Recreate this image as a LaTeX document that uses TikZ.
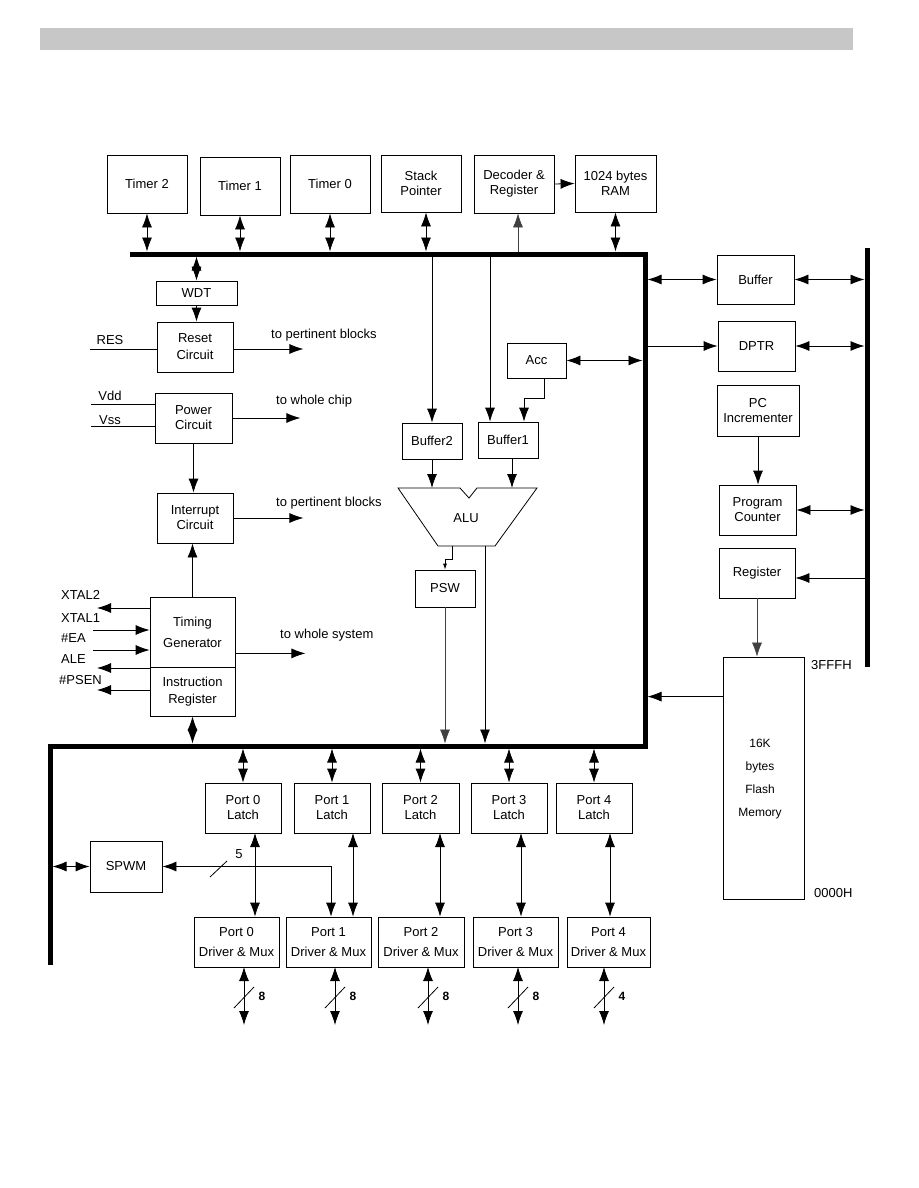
\documentclass[tikz,border=0pt]{standalone}
\usepackage{fontspec}
\setmainfont{Liberation Sans}
\usetikzlibrary{arrows.meta,calc}
\tikzset{
  blk/.style={draw, line width=0.8pt, inner sep=0pt, align=center, font=\fontsize{13}{15}\selectfont},
  bus/.style={line width=5pt},
  arr/.style={-{Latex[length=14pt,width=10pt]}, line width=0.8pt},
  darr/.style={{Latex[length=14pt,width=10pt]}-{Latex[length=14pt,width=10pt]}, line width=0.8pt},
  sarr/.style={-{Latex[length=6pt,width=4pt]}, line width=0.8pt},
  fine/.style={line width=0.6pt, draw=black!75},
  lbl/.style={font=\fontsize{13}{15}\selectfont, inner sep=0pt},
  num/.style={font=\fontsize{12}{14}\selectfont\bfseries, inner sep=0pt},
}
\newcommand\bx[6]{\node[blk, minimum width={(#4-#2)*1pt}, minimum height={(#5-#3)*1pt}] (#1) at ({(#2+#4)/2},{(#3+#5)/2}) {#6};}
\begin{document}
\begin{tikzpicture}[x=1pt,y=-1pt]
\useasboundingbox (0,0) rectangle (918,1188);
\fill[black!22] (40,28) rectangle (853,50);

% buses
\draw[bus, line join=miter] (130,254) -- (645,254) -- (645,746) -- (50,746) -- (50,965);
\draw[bus] (867,248) -- (867,667);
\coordinate (bT) at (0,251.5);
\coordinate (bTb) at (0,256.5);
\coordinate (bRl) at (642.5,0);
\coordinate (bRr) at (647.5,0);
\coordinate (bL) at (0,743.5);
\coordinate (bLb) at (0,748.5);
\coordinate (bLr) at (52.5,0);
\coordinate (rb) at (864.5,0);

% top row
\bx{t2}{107}{155}{187}{213}{Timer 2}
\bx{t1}{200}{157}{280}{215}{Timer 1}
\bx{t0}{290}{155}{370}{213}{Timer 0}
\bx{sp}{381}{155}{461}{212}{Stack\\Pointer}
\bx{dec}{474}{155}{554}{213}{Decoder \&\\Register}
\bx{ram}{575}{155}{656}{212}{1024 bytes\\RAM}
\draw[darr] (t2.south) -- (t2.south |- bT);
\draw[darr] (t1.south) -- (t1.south |- bT);
\draw[darr] (t0.south) -- (t0.south |- bT);
\path (sp.south) ++(5,0) coordinate (spA);
\draw[darr] (spA) -- (spA |- bT);
\path (dec.south) ++(4,0) coordinate (decA);
\draw[arr, fine] (decA |- bT) -- (decA);
\draw[arr] (dec.east) -- (ram.west);
\draw[darr] (ram.south) -- (ram.south |- bT);

% left column
\bx{wdt}{156}{281}{237}{305}{WDT}
\bx{rst}{157}{322}{233}{372}{Reset\\[2pt]Circuit}
\bx{pwr}{155}{393}{232}{443}{Power\\Circuit}
\bx{intr}{157}{493}{233}{543}{Interrupt\\Circuit}
\bx{tim}{150}{597}{235}{667}{Timing\\[6pt]Generator}
\bx{ir}{150}{667}{235}{716}{Instruction\\[2pt]Register}
\draw[darr] (wdt.north) -- (wdt.north |- bTb);
\draw[arr] (wdt.south) -- (wdt.south |- rst.north);
\coordinate (resin) at (90,349);
\draw[line width=0.8pt] (resin) -- (resin -| rst.west);
\node[lbl] (res) at (110,340) {RES};
\draw[arr] (resin -| rst.east) -- ++(70,0) coordinate (rstout);
\node[lbl, anchor=west] (rstlbl) at (271,335) {to pertinent blocks};
\coordinate (vdd) at (91,404);
\coordinate (vss) at (91,426);
\draw[line width=0.8pt] (vdd) -- (vdd -| pwr.west);
\draw[line width=0.8pt] (vss) -- (vss -| pwr.west);
\node[lbl] (vddl) at (110,396) {Vdd};
\node[lbl] (vssl) at (110,420) {Vss};
\draw[arr] (pwr.east) -- ++(68,0) coordinate (pwrout);
\node[lbl, anchor=west] (pwrlbl) at (276,401) {to whole chip};
\draw[arr] (pwr.south) -- (pwr.south |- intr.north);
\draw[arr] (intr.east) -- ++(70,0) coordinate (intout);
\node[lbl, anchor=west] (intlbl) at (276,503) {to pertinent blocks};
\draw[arr] (tim.north) -- (tim.north |- intr.south);
\path (tim.south east) ++(0,-14) coordinate (timA);
\draw[arr] (timA) -- ++(70,0) coordinate (timout);
\node[lbl, anchor=west] (timlbl) at (280,635) {to whole system};
\coordinate (x2) at (97,608);
\coordinate (x1) at (93,630);
\coordinate (ea) at (93,650);
\coordinate (ale) at (97,668);
\coordinate (psen) at (97,690);
\draw[arr] (x2 -| tim.west) -- (x2);
\draw[arr] (x1) -- (x1 -| tim.west);
\draw[arr] (ea) -- (ea -| tim.west);
\draw[arr] (ale -| tim.west) -- (ale);
\draw[arr] (psen -| ir.west) -- (psen);
\node[lbl, anchor=west] (x2l) at (61,595) {XTAL2};
\node[lbl, anchor=west] (x1l) at (61,618) {XTAL1};
\node[lbl, anchor=west] (eal) at (61,638) {\#EA};
\node[lbl, anchor=west] (alel) at (61,659) {ALE};
\node[lbl, anchor=west] (psenl) at (59,680) {\#PSEN};
\draw[darr] (ir.south) -- (ir.south |- bL);

% centre: buffers, ALU, PSW
\bx{acc}{507}{343}{566}{378}{Acc}
\bx{bf2}{402}{423}{462}{459}{Buffer2}
\bx{bf1}{478}{422}{538}{458}{Buffer1}
\bx{psw}{415}{570}{475}{607}{PSW}
\draw[arr] (bf2.north |- bTb) -- (bf2.north);
\path (bf1.north) ++(-18,0) coordinate (b1a);
\draw[arr] (b1a |- bTb) -- (b1a);
\draw[darr] (acc.east) -- (acc.east -| bRl);
\path (acc.south) ++(8,0) coordinate (accA);
\path (bf1.north) ++(16,0) coordinate (b1b);
\draw[arr] (accA) -- ++(0,20) -| (b1b);
\draw[line width=0.8pt] (398,488) -- (460,488) -- (469,498) -- (477,488) -- (537,488) -- (495,546) -- (438,546) -- cycle;
\node[lbl] (alu) at (466,518) {ALU};
\coordinate (aluT) at (0,488);
\draw[arr] (bf2.south) -- (bf2.south |- aluT);
\path (bf1.south) ++(4,0) coordinate (b1c);
\draw[arr] (b1c) -- (b1c |- aluT);
\coordinate (aluo1) at (452,546);
\draw[sarr] (aluo1) -- ++(0,13) -| (psw.north);
\draw[arr, fine] (psw.south) -- (psw.south |- bL);
\coordinate (aluo2) at (485,546);
\draw[arr] (aluo2) -- (aluo2 |- bL);

% right side
\bx{buf}{717}{255}{794}{304}{Buffer}
\bx{dptr}{718}{321}{795}{371}{DPTR}
\bx{pci}{717}{385}{799}{436}{PC\\Incrementer}
\bx{pc}{719}{485}{796}{535}{Program\\Counter}
\bx{reg}{719}{548}{795}{598}{Register}
\bx{flash}{723}{657}{804}{899}{}
\node[align=center, inner sep=0pt, font=\fontsize{12}{23}\selectfont] (fltxt) at (760,779) {16K\\bytes\\Flash\\Memory};
\draw[darr] (buf.west) -- (buf.west -| bRr);
\draw[darr] (buf.east) -- (buf.east -| rb);
\draw[arr] (dptr.west -| bRr) -- (dptr.west);
\draw[darr] (dptr.east) -- (dptr.east -| rb);
\draw[arr] (pci.south) -- (pci.south |- pc.north);
\draw[darr] (pc.east) -- (pc.east -| rb);
\path (reg.east) ++(0,5) coordinate (regA);
\draw[arr] (regA -| rb) -- (regA);
\draw[arr, fine] (reg.south) -- (reg.south |- flash.north);
\path (flash.north west) ++(0,40) coordinate (flA);
\draw[arr] (flA) -- (flA -| bRr);
\node[lbl, anchor=west] (hi) at (811,665) {3FFFH};
\node[lbl, anchor=west] (lo) at (814,893) {0000H};

% ports
\coordinate (pbot) at (0,1025);
\foreach \i/\la/\lb/\da/\db/\ld/\bd/\n in {0/205/281/194/279/255/244/8, 1/294/370/286/371/353/335/8, 2/382/459/378/464/440/428/8, 3/471/547/473/558/521/518/8, 4/556/632/567/650/610/604/4}{
  \bx{l\i}{\la}{783}{\lb}{833}{Port \i\\Latch}
  \bx{d\i}{\da}{917}{\db}{967}{Port \i\\[5pt]Driver \& Mux}
  \draw[darr] (l\i.north) -- (l\i.north |- bLb);
  \coordinate (ld\i) at (\ld,833);
  \draw[darr] (ld\i) -- (ld\i |- d\i.north);
  \coordinate (bd\i) at (\bd,967);
  \draw[darr] (bd\i) -- (bd\i |- pbot);
  \draw[line width=0.8pt] (\bd-10,1008) -- (\bd+10,987);
  \node[num] (n\i) at (\bd+18,996) {\n};
}
\bx{spwm}{90}{841}{162}{892}{SPWM}
\path (d1.north) ++(2.5,0) coordinate (d1s);
\draw[darr] (spwm.east) -| (d1s);
\draw[line width=0.8pt] (210,877) -- (227,861);
\node[lbl] (five) at (239,854) {5};
\draw[darr] (spwm.west) -- (spwm.west -| bLr);
\end{tikzpicture}
\end{document}
